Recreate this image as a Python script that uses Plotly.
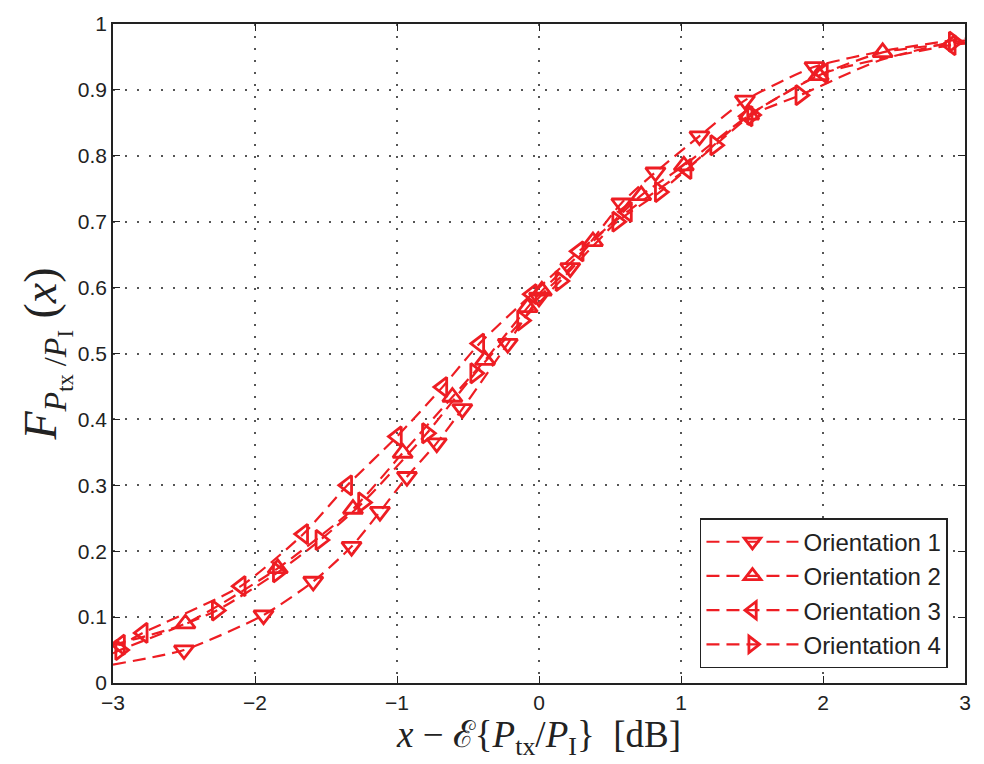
import plotly.graph_objects as go

# Orientation 1 (down triangles)
x1 = [-3.0, -2.5, -1.94, -1.59, -1.32, -1.12, -0.93, -0.72, -0.54, -0.22, 0.0, 0.22, 0.58, 0.82, 1.13, 1.45, 1.94, 2.45, 3.0]
y1 = [0.028, 0.05, 0.103, 0.154, 0.207, 0.26, 0.313, 0.364, 0.416, 0.515, 0.585, 0.63, 0.728, 0.775, 0.83, 0.884, 0.935, 0.96, 0.978]
m1 = [0, 1, 1, 1, 1, 1, 1, 1, 1, 1, 1, 1, 1, 1, 1, 1, 1, 0, 0]

# Orientation 2 (up triangles)
x2 = [-3.0, -2.49, -1.84, -1.31, -0.96, -0.61, -0.38, -0.08, 0.02, 0.38, 0.72, 1.02, 1.48, 1.97, 2.42, 3.0]
y2 = [0.058, 0.09, 0.174, 0.264, 0.349, 0.434, 0.49, 0.57, 0.595, 0.67, 0.74, 0.785, 0.862, 0.922, 0.957, 0.972]
m2 = [0, 1, 1, 1, 1, 1, 1, 1, 1, 1, 1, 1, 1, 1, 1, 0]

# Orientation 3 (left triangles)
x3 = [-3.0, -2.95, -2.79, -2.1, -1.66, -1.35, -1.0, -0.68, -0.42, -0.05, 0.28, 0.62, 1.04, 1.47, 2.0, 2.9, 3.0]
y3 = [0.062, 0.058, 0.076, 0.147, 0.226, 0.30, 0.374, 0.449, 0.515, 0.59, 0.655, 0.715, 0.78, 0.86, 0.925, 0.968, 0.97]
m3 = [0, 1, 1, 1, 1, 1, 1, 1, 1, 1, 1, 1, 1, 1, 1, 1, 0]

# Orientation 4 (right triangles)
x4 = [-3.0, -2.95, -2.27, -1.84, -1.54, -1.24, -0.79, -0.45, -0.12, 0.15, 0.55, 0.85, 1.24, 1.5, 1.84, 2.4, 2.92, 3.0]
y4 = [0.045, 0.05, 0.11, 0.168, 0.217, 0.274, 0.379, 0.47, 0.55, 0.61, 0.70, 0.745, 0.816, 0.862, 0.892, 0.945, 0.973, 0.975]
m4 = [0, 1, 1, 1, 1, 1, 1, 1, 1, 1, 1, 1, 1, 1, 1, 0, 1, 0]

names = ["Orientation 1", "Orientation 2", "Orientation 3", "Orientation 4"]
symbols = ["triangle-down-open", "triangle-up-open", "triangle-left-open", "triangle-right-open"]

xticks = [-3, -2, -1, 0, 1, 2, 3]
xticklabels = ["\u22123", "\u22122", "\u22121", "0", "1", "2", "3"]
yticks = [0, 0.1, 0.2, 0.3, 0.4, 0.5, 0.6, 0.7, 0.8, 0.9, 1.0]
yticklabels = ["0", "0.1", "0.2", "0.3", "0.4", "0.5", "0.6", "0.7", "0.8", "0.9", "1"]

RED = "#EE1D23"
MS = 17
NB = "\u00a0"

fig = go.Figure()
for xs, ys, ms, nm, sym in zip([x1, x2, x3, x4], [y1, y2, y3, y4], [m1, m2, m3, m4], names, symbols):
    fig.add_trace(go.Scatter(
        x=xs, y=ys, name=nm, mode="lines+markers",
        line=dict(color=RED, width=2.2, dash="13px,7px", shape="spline", smoothing=0.6),
        marker=dict(symbol=sym, size=[MS * v for v in ms], color=RED, opacity=1,
                    line=dict(color=RED, width=2.8)),
    ))

xtitle = ("<i>x</i>" + NB + "\u2212" + NB + "\u2130{<i>P</i><sub>tx</sub>/<i>P</i><sub>I</sub>}"
          + NB + NB + "[dB]")
ytitle = ("<i>F</i><sub><i>P</i><sub>tx</sub>" + NB + "/<i>P</i><sub>I</sub></sub>" + NB + "(<i>x</i>)")

fig.update_layout(
    width=984, height=764,
    margin=dict(l=113, r=19, t=15, b=81),
    paper_bgcolor="white", plot_bgcolor="white",
    font=dict(family="Liberation Sans, Arial, sans-serif", size=21, color="#222"),
    showlegend=True,
    legend=dict(
        x=0.98, y=0.0225, xanchor="right", yanchor="bottom",
        bgcolor="white", bordercolor="#222", borderwidth=1.5,
        font=dict(size=24, color="#222"), itemwidth=92, tracegroupgap=0,
    ),
    xaxis=dict(
        range=[-3, 3], tickmode="array", tickvals=xticks, ticktext=xticklabels,
        showline=True, linecolor="#222", linewidth=1.5, mirror="ticks",
        ticks="inside", ticklen=7, tickcolor="#222",
        showgrid=True, gridcolor="#555", griddash="2px,10px", gridwidth=1.5,
        zeroline=False,
        title=dict(text=xtitle,
                   font=dict(family="Liberation Serif, DejaVu Serif, serif", size=37, color="#222"),
                   standoff=6),
    ),
    yaxis=dict(
        range=[0, 1], tickmode="array", tickvals=yticks, ticktext=yticklabels,
        showline=True, linecolor="#222", linewidth=1.5, mirror="ticks",
        ticks="inside", ticklen=7, tickcolor="#222",
        showgrid=True, gridcolor="#555", griddash="2px,10px", gridwidth=1.5,
        zeroline=False,
        title=dict(text=ytitle,
                   font=dict(family="Liberation Serif, DejaVu Serif, serif", size=46, color="#222"),
                   standoff=6),
    ),
)

fig.write_html("out.html")
